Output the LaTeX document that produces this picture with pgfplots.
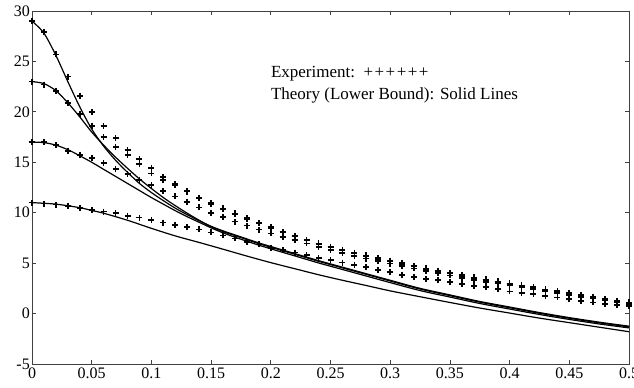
\documentclass[border=0pt]{standalone}
\usepackage{fontspec}
\setmainfont{Liberation Serif}
\usepackage{pgfplots}
\usepackage{pgfplotstable}
\pgfplotsset{compat=1.18}

\pgfplotstableread{
x     A      B      C      D
0.00  29.0   23.0   17.0   11.0
0.01  27.9   22.7   17.0   10.9
0.02  25.7   22.1   16.7   10.8
0.03  23.5   20.9   16.15  10.68
0.04  21.6   19.8   15.75  10.48
0.05  20.0   18.6   15.4   10.3
0.06  18.6   17.5   14.95  10.12
0.07  17.4   16.5   14.3   9.95
0.08  16.2   15.7   13.85  9.7
0.09  15.35  14.8   13.25  9.52
0.10  14.4   13.9   12.74  9.3
0.11  13.56  13.22  12.15  9.02
0.12  12.84  12.78  11.62  8.8
0.13  12.15  12.1   11.08  8.58
0.14  11.5   11.45  10.53  8.35
0.15  10.93  10.88  9.99   8.05
0.16  10.42  10.37  9.55   7.75
0.17  9.93   9.88   9.12   7.45
0.18  9.45   9.40   8.72   7.12
0.19  9.0    8.95   8.33   6.85
0.20  8.55   8.50   7.95   6.52
0.21  8.12   8.07   7.6    6.3
0.22  7.7    7.65   7.27   6.05
0.23  7.29   7.24   6.96   5.8
0.24  6.95   6.90   6.63   5.5
0.25  6.63   6.58   6.31   5.3
0.26  6.32   6.27   6.02   5.05
0.27  6.04   5.99   5.74   4.85
0.28  5.76   5.71   5.46   4.62
0.29  5.49   5.44   5.19   4.35
0.30  5.23   5.18   4.95   4.1
0.31  4.99   4.94   4.71   3.85
0.32  4.73   4.68   4.47   3.65
0.33  4.48   4.43   4.22   3.45
0.34  4.25   4.20   3.99   3.3
0.35  4.03   3.98   3.78   3.12
0.36  3.80   3.75   3.56   2.95
0.37  3.59   3.54   3.35   2.75
0.38  3.38   3.33   3.16   2.62
0.39  3.19   3.14   2.97   2.42
0.40  2.99   2.94   2.77   2.2
0.41  2.79   2.74   2.58   2.05
0.42  2.60   2.55   2.40   1.93
0.43  2.40   2.35   2.20   1.77
0.44  2.22   2.17   2.03   1.6
0.45  2.02   1.97   1.84   1.42
0.46  1.84   1.79   1.66   1.26
0.47  1.65   1.60   1.48   1.1
0.48  1.46   1.41   1.30   0.98
0.49  1.28   1.23   1.12   0.86
0.50  1.10   1.05   0.95   0.76
}\expdata

\pgfplotstableread{
x     y
0.00  29.0
0.01  27.8
0.02  25.6
0.03  23.0
0.04  20.5
0.05  18.3
0.06  16.6
0.07  15.2
0.08  14.0
0.09  12.9
0.10  12.0
0.11  11.2
0.12  10.45
0.13  9.8
0.14  9.2
0.15  8.65
0.16  8.2
0.17  7.8
0.18  7.4
0.19  7.0
0.20  6.65
0.22  5.95
0.24  5.25
0.26  4.6
0.28  3.95
0.30  3.3
0.325 2.5
0.35  1.85
0.375 1.2
0.40  0.65
0.425 0.1
0.45  -0.4
0.475 -0.85
0.50  -1.25
}\thA

\pgfplotstableread{
x     y
0.00  23.0
0.01  22.8
0.02  22.1
0.03  20.9
0.04  19.5
0.05  18.0
0.06  16.7
0.07  15.5
0.08  14.4
0.09  13.35
0.10  12.4
0.11  11.5
0.12  10.7
0.13  9.95
0.14  9.25
0.15  8.62
0.16  8.13
0.17  7.73
0.18  7.33
0.19  6.93
0.20  6.58
0.22  5.88
0.24  5.18
0.26  4.53
0.28  3.88
0.30  3.23
0.325 2.43
0.35  1.78
0.375 1.13
0.40  0.58
0.425 0.03
0.45  -0.47
0.475 -0.92
0.50  -1.32
}\thB

\pgfplotstableread{
x     y
0.00  17.0
0.01  16.95
0.02  16.7
0.03  16.25
0.04  15.65
0.05  15.0
0.06  14.3
0.07  13.6
0.08  12.9
0.09  12.2
0.10  11.5
0.11  10.85
0.12  10.2
0.13  9.6
0.14  9.05
0.15  8.5
0.16  8.0
0.17  7.57
0.18  7.17
0.19  6.78
0.20  6.42
0.22  5.72
0.24  5.02
0.26  4.37
0.28  3.72
0.30  3.07
0.325 2.28
0.35  1.64
0.375 1.0
0.40  0.45
0.425 -0.09
0.45  -0.58
0.475 -1.03
0.50  -1.42
}\thC

\pgfplotstableread{
x     y
0.00  11.0
0.02  10.85
0.04  10.5
0.05  10.22
0.06  9.95
0.08  9.25
0.10  8.45
0.12  7.7
0.14  7.05
0.16  6.38
0.18  5.7
0.20  5.05
0.22  4.45
0.24  3.85
0.26  3.3
0.28  2.78
0.30  2.25
0.325 1.67
0.35  1.1
0.375 0.55
0.40  0.05
0.425 -0.45
0.45  -0.9
0.475 -1.35
0.50  -1.8
}\thD

\begin{document}
\begin{tikzpicture}
\begin{axis}[
  scale only axis,
  width=597bp, height=353bp,
  xmin=0, xmax=0.5, ymin=-5, ymax=30,
  xtick={0,0.05,0.1,0.15,0.2,0.25,0.3,0.35,0.4,0.45,0.5},
  xticklabels={0,0.05,0.1,0.15,0.2,0.25,0.3,0.35,0.4,0.45,0.5},
  ytick={-5,0,5,10,15,20,25,30},
  yticklabels={-5,0,5,10,15,20,25,30},
  tick align=inside,
  major tick length=4bp,
  xtick pos=both, ytick pos=both,
  /pgf/number format/assume math mode=true,
  ticklabel style={font=\fontsize{16bp}{18bp}\selectfont},
  xticklabel style={inner sep=1bp, yshift=-3bp},
  yticklabel style={inner sep=1bp, xshift=-1bp},
  axis line style={line width=0.9bp, black!75},
  every tick/.style={black!75, line width=0.8bp},
  clip=false,
]
\addplot[black, line width=1.2bp, smooth] table {\thA};
\addplot[black, line width=1.2bp, smooth] table {\thB};
\addplot[black, line width=1.2bp, smooth] table {\thC};
\addplot[black, line width=1.2bp, smooth] table {\thD};
\addplot[only marks, mark=+, mark size=3bp, mark options={line width=1.7bp, black}] table[x=x,y=A] {\expdata};
\addplot[only marks, mark=+, mark size=3bp, mark options={line width=1.7bp, black}] table[x=x,y=B] {\expdata};
\addplot[only marks, mark=+, mark size=3bp, mark options={line width=1.7bp, black}] table[x=x,y=C] {\expdata};
\addplot[only marks, mark=+, mark size=3bp, mark options={line width=1.7bp, black}] table[x=x,y=D] {\expdata};
\node[anchor=west, inner sep=0, font=\fontsize{17bp}{19bp}\selectfont] at (axis cs:0.2,23.8) {Experiment:\ \ +\kern1.5bp+\kern1.5bp+\kern1.5bp+\kern1.5bp+\kern1.5bp+};
\node[anchor=west, inner sep=0, font=\fontsize{17bp}{19bp}\selectfont] at (axis cs:0.2,21.6) {Theory (Lower Bound): Solid Lines};
\end{axis}
\pgfresetboundingbox
\path[use as bounding box] ([shift={(-32bp,-24bp)}]current axis.south west) rectangle ([shift={(5bp,11bp)}]current axis.north east);
\end{tikzpicture}
\end{document}
